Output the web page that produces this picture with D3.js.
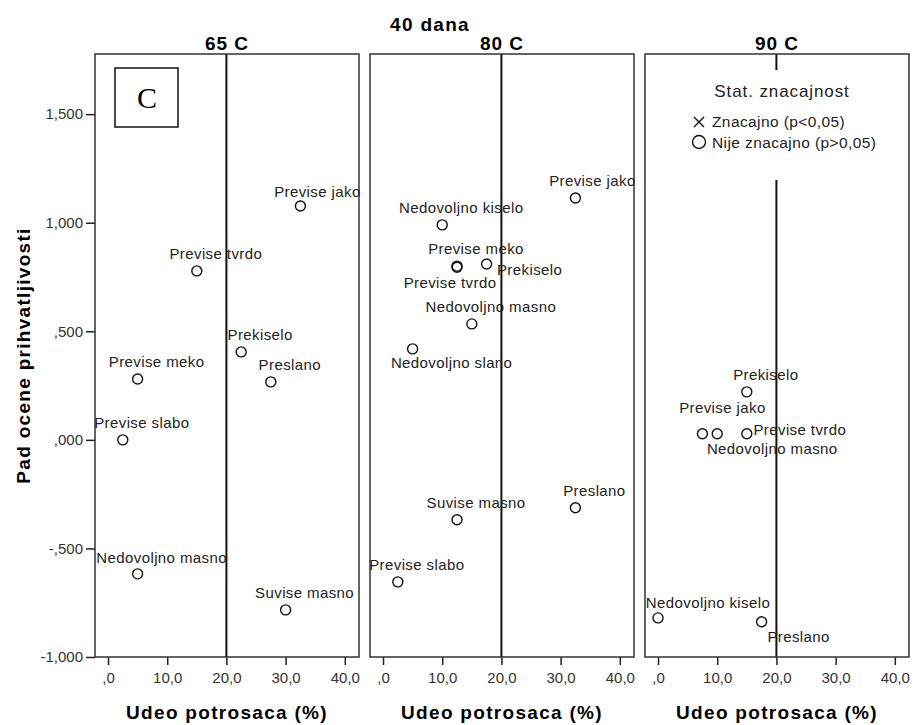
<!DOCTYPE html>
<html>
<head>
<meta charset="utf-8">
<script src="https://cdn.jsdelivr.net/npm/d3@7"></script>
<style>
  body { margin: 0; background: #fff; }
  text { font-family: "Liberation Sans", Arial, sans-serif; }
</style>
</head>
<body>
<div id="chart"></div>
<script>
// panels (storage temperature), all after 40 days
const panelTitles = ['65 C', '80 C', '90 C'];

// 65 C
const labels65 = ['Previse jako', 'Previse tvrdo', 'Prekiselo', 'Preslano', 'Previse meko', 'Previse slabo', 'Nedovoljno masno', 'Suvise masno'];
const share65 = [32.5, 15.0, 22.5, 27.5, 5.0, 2.5, 5.0, 30.0];
const drop65 = [1.077, 0.778, 0.405, 0.267, 0.280, 0.000, -0.617, -0.783];

// 80 C
const labels80 = ['Previse jako', 'Nedovoljno kiselo', 'Previse meko', 'Previse tvrdo', 'Prekiselo', 'Nedovoljno masno', 'Nedovoljno slano', 'Suvise masno', 'Preslano', 'Previse slabo'];
const share80 = [32.5, 10.0, 12.5, 12.5, 17.5, 15.0, 5.0, 12.5, 32.5, 2.5];
const drop80 = [1.114, 0.990, 0.800, 0.795, 0.810, 0.534, 0.419, -0.368, -0.313, -0.654];

// 90 C
const labels90 = ['Prekiselo', 'Previse jako', 'Nedovoljno masno', 'Previse tvrdo', 'Nedovoljno kiselo', 'Preslano'];
const share90 = [15.0, 7.5, 10.0, 15.0, 0.0, 17.5];
const drop90 = [0.221, 0.028, 0.028, 0.028, -0.820, -0.838];

const xTicks = [0, 10, 20, 30, 40];
const yTicks = [-1.0, -0.5, 0, 0.5, 1.0, 1.5];
const refShare = 20; // vertical reference line

// label placement, like SPSS moved them to avoid overlaps [dx, baseline dy]
const defaultNudge = [19, -12];
const labelNudge = [
    { 'Previse jako': [17, -9], 'Nedovoljno masno': [24, -11] },
    { 'Previse jako': [17, -12], 'Previse tvrdo': [-7, 21], 'Prekiselo': [43, 11], 'Nedovoljno slano': [39, 19] },
    { 'Previse jako': [20, -21], 'Previse tvrdo': [53, 1], 'Nedovoljno masno': [55, 20], 'Nedovoljno kiselo': [50, -10], 'Preslano': [37, 20] }
];

const panels = [
    { labels: labels65, share: share65, drop: drop65 },
    { labels: labels80, share: share80, drop: drop80 },
    { labels: labels90, share: share90, drop: drop90 }
];

const width = 913,
    height = 725,
    plotTop = 54,
    plotBottom = 657,
    plotLeft = 95,
    panelW = 264,
    gap = 11;

// 1,500 / ,500 / -,500 style numbers
function fmt(spec) {
    const f = d3.format(spec);
    return (v) => f(v).replace('\u2212', '-').replace(/^(-?)0\./, '$1.').replace('.', ',');
}

const svg = d3.select('#chart')
    .append('svg')
    .attr('width', width)
    .attr('height', height);

const y = d3.scaleLinear()
    .domain([-1.0, 1.777])
    .range([plotBottom, plotTop]);

svg.append('text')
    .attr('x', 430)
    .attr('y', 31)
    .attr('text-anchor', 'middle')
    .attr('font-size', 19)
    .attr('font-weight', 'bold')
    .attr('letter-spacing', 1.3)
    .text('40 dana');

svg.append('text')
    .attr('transform', `translate(30,${(plotTop + plotBottom) / 2}) rotate(-90)`)
    .attr('text-anchor', 'middle')
    .attr('font-size', 19)
    .attr('font-weight', 'bold')
    .attr('letter-spacing', 1.3)
    .text('Pad ocene prihvatljivosti');

// y axis only on the first panel
const yAxis = svg.append('g')
    .attr('transform', `translate(${plotLeft},0)`)
    .call(d3.axisLeft(y).tickValues(yTicks).tickFormat(fmt('.3f')).tickSize(9).tickPadding(3));
yAxis.select('.domain').remove();
yAxis.selectAll('line').attr('stroke', '#222').attr('stroke-width', 1.5);
yAxis.selectAll('text').attr('font-size', 15).attr('fill', '#333')
    .attr('font-family', '"Liberation Sans", Arial, sans-serif');

panels.forEach((p, i) => {
    const x0 = plotLeft + i * (panelW + gap);
    const x = d3.scaleLinear()
        .domain([-2.2, 42.4])
        .range([x0, x0 + panelW]);

    const g = svg.append('g');

    g.append('text')
        .attr('x', x0 + panelW / 2)
        .attr('y', 50)
        .attr('text-anchor', 'middle')
        .attr('font-size', 19)
        .attr('font-weight', 'bold')
        .attr('letter-spacing', 1)
        .text(panelTitles[i]);

    const xAxis = g.append('g')
        .attr('transform', `translate(0,${plotBottom})`)
        .call(d3.axisBottom(x).tickValues(xTicks).tickFormat(fmt('.1f')).tickSize(8).tickPadding(7));
    xAxis.select('.domain').remove();
    xAxis.selectAll('line').attr('stroke', '#222').attr('stroke-width', 1.5);
    xAxis.selectAll('text').attr('font-size', 15).attr('fill', '#333')
        .attr('font-family', '"Liberation Sans", Arial, sans-serif');

    g.append('text')
        .attr('x', x0 + panelW / 2)
        .attr('y', 719)
        .attr('text-anchor', 'middle')
        .attr('font-size', 19)
        .attr('font-weight', 'bold')
        .attr('letter-spacing', 1.3)
        .text('Udeo potrosaca (%)');

    g.append('line')
        .attr('x1', x(refShare))
        .attr('x2', x(refShare))
        .attr('y1', plotTop)
        .attr('y2', plotBottom)
        .attr('stroke', '#111')
        .attr('stroke-width', 2);

    g.append('rect')
        .attr('x', x0)
        .attr('y', plotTop)
        .attr('width', panelW)
        .attr('height', plotBottom - plotTop)
        .attr('fill', 'none')
        .attr('stroke', '#333')
        .attr('stroke-width', 1.5);

    const nodes = p.labels.map((name, j) => ({ name, share: p.share[j], drop: p.drop[j] }));
    const nudge = (d) => labelNudge[i][d.name] || defaultNudge;

    g.selectAll('.pt')
        .data(nodes)
        .enter().append('circle')
        .attr('class', 'pt')
        .attr('cx', (d) => x(d.share))
        .attr('cy', (d) => y(d.drop))
        .attr('r', 5)
        .attr('fill', 'none')
        .attr('stroke', '#111')
        .attr('stroke-width', 1.4);

    g.selectAll('.lbl')
        .data(nodes)
        .enter().append('text')
        .attr('class', 'lbl')
        .attr('x', (d) => x(d.share) + nudge(d)[0])
        .attr('y', (d) => y(d.drop) + nudge(d)[1])
        .attr('text-anchor', 'middle')
        .attr('font-size', 15)
        .attr('letter-spacing', 0.4)
        .attr('fill', '#222')
        .text((d) => d.name);
});

// "C" box in the first panel
svg.append('rect')
    .attr('x', 115).attr('y', 68)
    .attr('width', 63).attr('height', 59)
    .attr('fill', '#fff')
    .attr('stroke', '#111')
    .attr('stroke-width', 1.5);
svg.append('text')
    .attr('x', 147).attr('y', 108)
    .attr('text-anchor', 'middle')
    .attr('font-size', 30)
    .style('font-family', '"Liberation Serif", "Times New Roman", serif')
    .text('C');

// legend in the last panel (covers the reference line)
const leg = svg.append('g');
leg.append('rect')
    .attr('x', 690).attr('y', 70)
    .attr('width', 185).attr('height', 110)
    .attr('fill', '#fff');
leg.append('text')
    .attr('x', 782).attr('y', 97)
    .attr('text-anchor', 'middle')
    .attr('font-size', 17)
    .attr('letter-spacing', 0.9)
    .attr('fill', '#222')
    .text('Stat. znacajnost');
leg.append('path')
    .attr('d', 'M694,117 L704,127 M704,117 L694,127')
    .attr('stroke', '#111')
    .attr('stroke-width', 1.4);
leg.append('circle')
    .attr('cx', 699).attr('cy', 142).attr('r', 6.5)
    .attr('fill', 'none')
    .attr('stroke', '#111')
    .attr('stroke-width', 1.4);
leg.selectAll('.item')
    .data(['Znacajno (p<0,05)', 'Nije znacajno (p>0,05)'])
    .enter().append('text')
    .attr('x', 712)
    .attr('y', (d, k) => 127 + k * 21)
    .attr('font-size', 15.5)
    .attr('letter-spacing', 0.4)
    .attr('fill', '#222')
    .text((d) => d);
</script>
</body>
</html>
